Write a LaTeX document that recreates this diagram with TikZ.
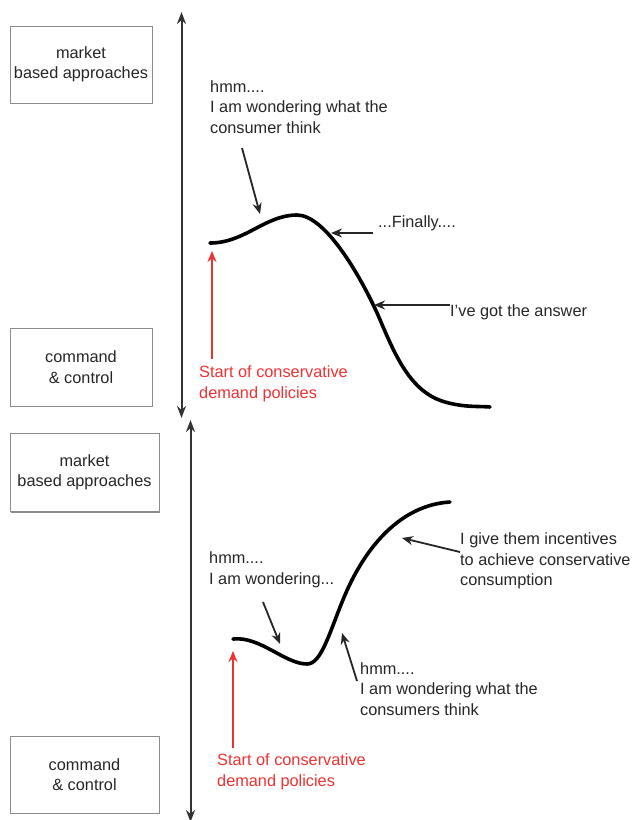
\documentclass[tikz,border=0pt]{standalone}
\usepackage{fontspec}
\setmainfont{Liberation Sans}
\usetikzlibrary{arrows.meta,shadows}
\definecolor{myred}{RGB}{238,50,50}
\begin{document}
\begin{tikzpicture}[x=1pt,y=-1pt, font=\fontsize{16.3}{20.5}\selectfont,
 box/.style={draw=black!45, line width=1pt, fill=white, align=center, inner sep=0,
   text=black!85, drop shadow={shadow xshift=1.2pt, shadow yshift=-1.2pt, fill=black!45, opacity=1}},
 lbl/.style={align=left, inner sep=0, anchor=west, text=black!85},
 rlbl/.style={lbl, text=myred},
 ptr/.style={-{Stealth[length=11pt,width=9pt]}, line width=1.8pt, draw=black!85},
 rptr/.style={-{Stealth[length=11pt,width=9pt]}, line width=1.8pt, draw=myred},
 axis/.style={{Stealth[length=12pt,width=9pt]}-{Stealth[length=12pt,width=9pt]}, line width=2pt, draw=black!80},
 curve/.style={line width=3.6pt, line cap=round}]
\useasboundingbox (0,0) rectangle (634,820);

% ---------- top panel ----------
\node[box, minimum width=142pt, minimum height=77pt] (m1) at (81,64.5) {market\\based approaches};
\node[box, minimum width=142pt, minimum height=78pt] (c1) at (81,367) {command\\\& control};
\coordinate (a1t) at (181.5,12);
\coordinate (a1b) at (181.5,418);
\draw[axis] (a1b) -- (a1t);

\draw[curve] (210,243) .. controls (245,243) and (265,215) .. (297,215)
  .. controls (325,215) and (360,275) .. (378,315)
  .. controls (395,355) and (410,392) .. (445,402)
  .. controls (465,407.7) and (480,406) .. (490,407);

\node[lbl] (q1) at (210,107) {hmm....\\I am wondering what the\\consumer think};
\coordinate (q1s) at (242,148);
\coordinate (q1e) at (260,214);
\draw[ptr] (q1s) -- (q1e);

\node[lbl] (fin) at (378,223) {...Finally....};
\coordinate (fins) at (373,233);
\coordinate (fine) at (331,233);
\draw[ptr] (fins) -- (fine);

\node[lbl] (ans) at (450,312) {I’ve got the answer};
\coordinate (anss) at (450,305);
\coordinate (anse) at (374,305);
\draw[ptr] (anss) -- (anse);

\node[rlbl] (s1) at (199,384) {Start of conservative\\demand policies};
\coordinate (r1s) at (212,359);
\coordinate (r1e) at (212,251);
\draw[rptr] (r1s) -- (r1e);

% ---------- bottom panel ----------
\node[box, minimum width=149pt, minimum height=78pt] (m2) at (84.5,472.5) {market\\based approaches};
\node[box, minimum width=149pt, minimum height=77pt] (c2) at (84.5,774.5) {command\\\& control};
\coordinate (a2t) at (190.5,420);
\coordinate (a2b) at (190.5,822);
\draw[axis] (a2b) -- (a2t);

\draw[curve] (233,639) .. controls (260,636) and (285,664) .. (307,664)
  .. controls (322,664) and (330,630) .. (345,595)
  .. controls (365,548) and (400,505) .. (450,502);

\node[lbl] (q2) at (209,570) {hmm....\\I am wondering...};
\coordinate (q2s) at (263,602);
\coordinate (q2e) at (280,644);
\draw[ptr] (q2s) -- (q2e);

\node[lbl] (inc) at (460,561) {I give them incentives\\to achieve conservative\\consumption};
\coordinate (incs) at (460,552);
\coordinate (ince) at (402,538);
\draw[ptr] (incs) -- (ince);

\node[lbl] (q3) at (360,689) {hmm....\\I am wondering what the\\consumers think};
\coordinate (q3s) at (357,681);
\coordinate (q3e) at (342,633);
\draw[ptr] (q3s) -- (q3e);

\node[rlbl] (s2) at (217,772) {Start of conservative\\demand policies};
\coordinate (r2s) at (233,748);
\coordinate (r2e) at (233,651);
\draw[rptr] (r2s) -- (r2e);
\end{tikzpicture}
\end{document}
